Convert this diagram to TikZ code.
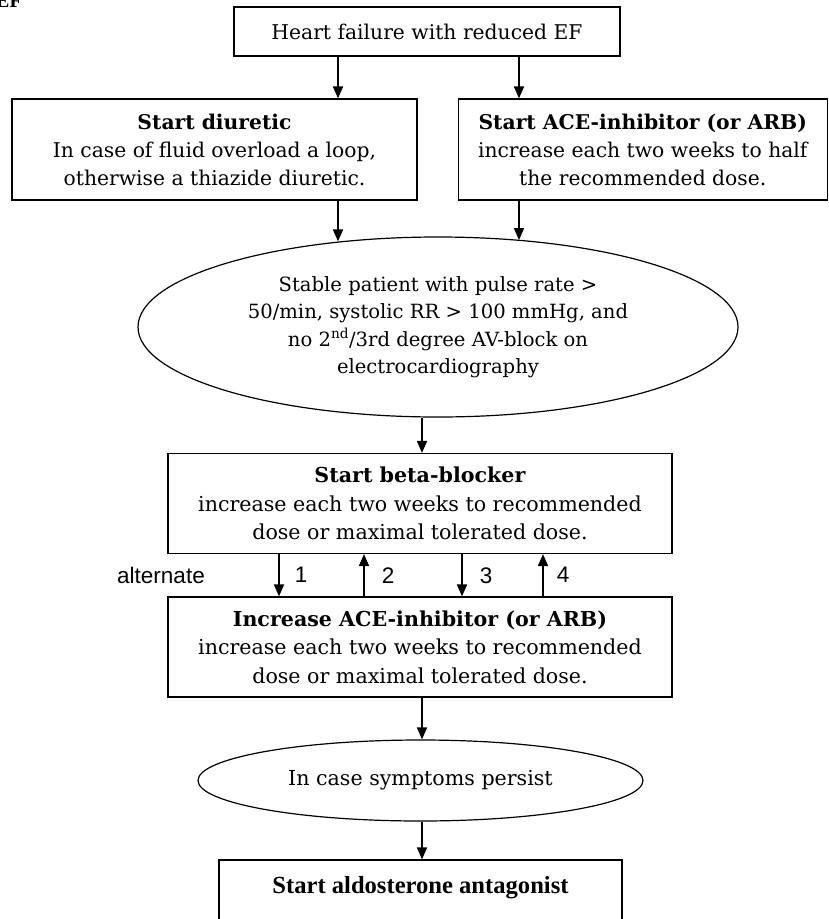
\documentclass[tikz,border=0pt]{standalone}
\usepackage{fontspec}
\usepackage{tikz}
\usetikzlibrary{shapes.geometric, arrows.meta}
\setmainfont{DejaVu Serif}
\newfontfamily\altfont{Liberation Sans}
\newfontfamily\timesfont{Liberation Serif}
\newcommand{\topsize}{\fontsize{20.3}{28}\selectfont}
\newcommand{\midsize}{\fontsize{20.6}{28.5}\selectfont}
\newcommand{\ovalsize}{\fontsize{19.6}{27.5}\selectfont}

\begin{document}
\begin{tikzpicture}[x=1pt, y=-1pt,
    box/.style={rectangle, draw, line width=1.2pt, inner sep=0pt, align=center, font=\midsize},
    oval/.style={ellipse, draw, line width=1.2pt, inner sep=0pt, align=center, font=\midsize},
    arrow/.style={-{Triangle[length=12pt, width=10pt]}, line width=1.8pt},
    num/.style={inner sep=0pt, font=\altfont\fontsize{22.5}{26}\selectfont}
]
\useasboundingbox (0,0) rectangle (828,919);

\node[anchor=base east, inner sep=0pt, font=\timesfont\bfseries\fontsize{20}{24}\selectfont] (panel) at (22,7) {EF};

\node[box, minimum width=386pt, minimum height=49pt, font=\topsize] (heart) at (427,31.5) {Heart failure with reduced EF};
\node[box, minimum width=405pt, minimum height=101pt, font=\topsize] (diuretic) at (214.5,149.5) {\textbf{Start diuretic}\\In case of fluid overload a loop,\\otherwise a thiazide diuretic.};
\node[box, minimum width=369pt, minimum height=101pt, font=\topsize] (acei) at (642.75,149.5) {\textbf{Start ACE-inhibitor (or ARB)}\\increase each two weeks to half\\the recommended dose.};

\node[oval, minimum width=600pt, minimum height=180pt, font=\ovalsize] (stable) at (438,327) {Stable patient with pulse rate >\\50/min, systolic RR > 100 mmHg, and\\no 2\textsuperscript{nd}/3rd degree AV-block on\\electrocardiography};

\node[box, minimum width=504pt, minimum height=100pt] (betablocker) at (420,503.5) {\textbf{Start beta-blocker}\\increase each two weeks to recommended\\dose or maximal tolerated dose.};
\node[box, minimum width=504pt, minimum height=100pt] (increase) at (420,647) {\textbf{Increase ACE-inhibitor (or ARB)}\\increase each two weeks to recommended\\dose or maximal tolerated dose.};

\node[oval, minimum width=445pt, minimum height=81pt] (persist) at (420.5,780.5) {In case symptoms persist};
\node[box, anchor=base, minimum width=403pt, text height=33pt, text depth=57pt, font=\timesfont\bfseries\fontsize{24.6}{29}\selectfont] (aldosterone) at (420.5,893) {Start aldosterone antagonist};

\node[num] (alternate) at (161,575) {alternate};

\coordinate (xleft) at (338,0);
\coordinate (xright) at (519,0);
\coordinate (xmid) at (422,0);
\coordinate (step1) at (279,0);
\coordinate (step2) at (364,0);
\coordinate (step3) at (462,0);
\coordinate (step4) at (543,0);

\draw[arrow] (heart.south -| xleft) -- (diuretic.north -| xleft);
\draw[arrow] (heart.south -| xright) -- (acei.north -| xright);
\draw[arrow] (diuretic.south -| xleft) -- (stable.139.6 -| xleft);
\draw[arrow] (acei.south -| xright) -- (stable.46.9 -| xright);
\draw[arrow] (stable.south -| xmid) -- (betablocker.north -| xmid);

\draw[arrow] (betablocker.south -| step1) -- (increase.north -| step1) node[num, midway, right=15pt] {1};
\draw[arrow] (increase.north -| step2) -- (betablocker.south -| step2) node[num, midway, right=17pt] {2};
\draw[arrow] (betablocker.south -| step3) -- (increase.north -| step3) node[num, midway, right=17pt] {3};
\draw[arrow] (increase.north -| step4) -- (betablocker.south -| step4) node[num, midway, right=13pt] {4};

\draw[arrow] (increase.south -| xmid) -- (persist.north -| xmid);
\draw[arrow] (persist.south -| xmid) -- (aldosterone.north -| xmid);

\end{tikzpicture}
\end{document}
